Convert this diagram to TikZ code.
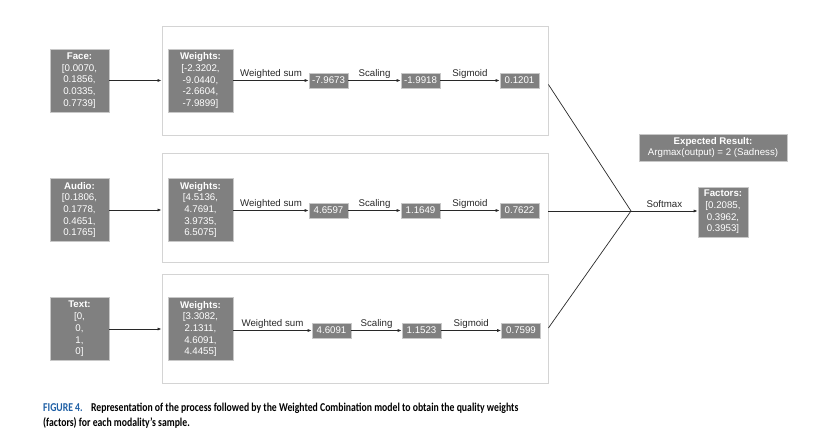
\documentclass[tikz,border=0pt]{standalone}
\usepackage{fontspec}
\setmainfont{Liberation Sans}
\newfontfamily\capfont[FakeStretch=0.81]{Carlito}
\usetikzlibrary{arrows.meta}
\definecolor{boxgray}{RGB}{128,128,128}
\definecolor{boxline}{RGB}{200,200,200}
\definecolor{frameline}{RGB}{212,212,212}
\definecolor{linecol}{RGB}{40,40,40}
\definecolor{capblue}{RGB}{30,95,165}
\begin{document}
\begin{tikzpicture}[x=1pt,y=-1pt,
  gbox/.style={draw=boxline, line width=0.6pt, fill=boxgray, text=white, align=center, inner sep=0pt,
    font=\fontsize{9.7}{11.7}\selectfont},
  inbox/.style={gbox, minimum width=59pt, minimum height=63pt},
  valbox/.style={gbox, minimum width=39pt, minimum height=15pt},
  frame/.style={draw=frameline, line width=0.8pt, minimum width=386pt, minimum height=109pt, inner sep=0pt},
  conn/.style={draw=linecol, line width=0.7pt, -{Latex[length=4pt,width=3pt]}},
  plain/.style={draw=linecol, line width=0.7pt},
  elabel/.style={text=linecol, font=\fontsize{9.7}{11}\selectfont, inner sep=1.5pt, above}
]
\useasboundingbox (0,0) rectangle (826,446);

% containers
\node[frame] (c1) at (355,80.5) {};
\node[frame] (c2) at (355,207.5) {};
\node[frame] (c3) at (355,328.5) {};

% row 1
\node[inbox] (in1) at (79.5,80.5) {\textbf{Face:}\\{[}0.0070,\\0.1856,\\0.0335,\\0.7739]};
\node[inbox, minimum width=65pt] (w1) at (200.5,80.5) {\textbf{Weights:}\\{[}-2.3202,\\-9.0440,\\-2.6604,\\-7.9899]};
\node[valbox] (a1) at (328.5,80.5) {-7.9673};
\node[valbox] (b1) at (420.5,80.5) {-1.9918};
\node[valbox] (o1) at (519.5,80.5) {0.1201};

% row 2
\node[inbox] (in2) at (79.5,210) {\textbf{Audio:}\\{[}0.1806,\\0.1778,\\0.4651,\\0.1765]};
\node[inbox, minimum width=65pt] (w2) at (200.5,210) {\textbf{Weights:}\\{[}4.5136,\\4.7691,\\3.9735,\\6.5075]};
\node[valbox] (a2) at (328.5,210.5) {4.6597};
\node[valbox] (b2) at (420.5,210.5) {1.1649};
\node[valbox] (o2) at (519.5,210.5) {0.7622};

% row 3
\node[inbox] (in3) at (79.5,329) {\textbf{Text:}\\{[}0,\\0,\\1,\\0]};
\node[inbox, minimum width=65pt] (w3) at (200.5,329) {\textbf{Weights:}\\{[}3.3082,\\2.1311,\\4.6091,\\4.4455]};
\node[valbox] (a3) at (331.5,330.5) {4.6091};
\node[valbox] (b3) at (421.5,330.5) {1.1523};
\node[valbox] (o3) at (521,330.5) {0.7599};

% right side
\node[gbox, minimum width=50pt, minimum height=50pt] (fac) at (723,212) {\textbf{Factors:}\\{[}0.2085,\\0.3962,\\0.3953]};
\node[gbox, minimum width=148pt, minimum height=27pt, font=\fontsize{9.7}{11.5}\selectfont] (exp) at (713,147.5) {\textbf{Expected Result:}\\Argmax(output) = 2 (Sadness)};
\coordinate (m) at (631,211);

% connectors row 1
\draw[conn] (in1.east) -- (c1.west |- in1.east);
\draw[conn] (w1.east |- a1) -- node[elabel]{Weighted sum} (a1);
\draw[conn] (a1) -- node[elabel]{Scaling} (b1);
\draw[conn] (b1) -- node[elabel]{Sigmoid} (o1);

% connectors row 2
\draw[conn] (in2.east) -- (c2.west |- in2.east);
\draw[conn] (w2.east |- a2) -- node[elabel]{Weighted sum} (a2);
\draw[conn] (a2) -- node[elabel]{Scaling} (b2);
\draw[conn] (b2) -- node[elabel]{Sigmoid} (o2);

% connectors row 3
\draw[conn] (in3.east) -- (c3.west |- in3.east);
\draw[conn] (w3.east |- a3) -- node[elabel]{Weighted sum} (a3);
\draw[conn] (a3) -- node[elabel]{Scaling} (b3);
\draw[conn] (b3) -- node[elabel]{Sigmoid} (o3);

% merge
\draw[plain] ([yshift=-4pt]c1.east) -- (m);
\draw[plain] ([yshift=-3.5pt]c2.east) -- (m);
\draw[plain] ([yshift=0.5pt]c3.east) -- (m);
\draw[conn] (m) -- node[elabel, inner sep=3pt]{Softmax} (fac.west |- m);

% caption
\node[anchor=north west, inner sep=0pt, align=left,
  font=\capfont\bfseries\fontsize{12}{15}\selectfont] (cap) at (43,402.5)
  {\textcolor{capblue}{FIGURE 4.}\hspace{0.45em} Representation of the process followed by the Weighted Combination model to obtain the quality weights\\(factors) for each modality’s sample.};
\end{tikzpicture}
\end{document}
